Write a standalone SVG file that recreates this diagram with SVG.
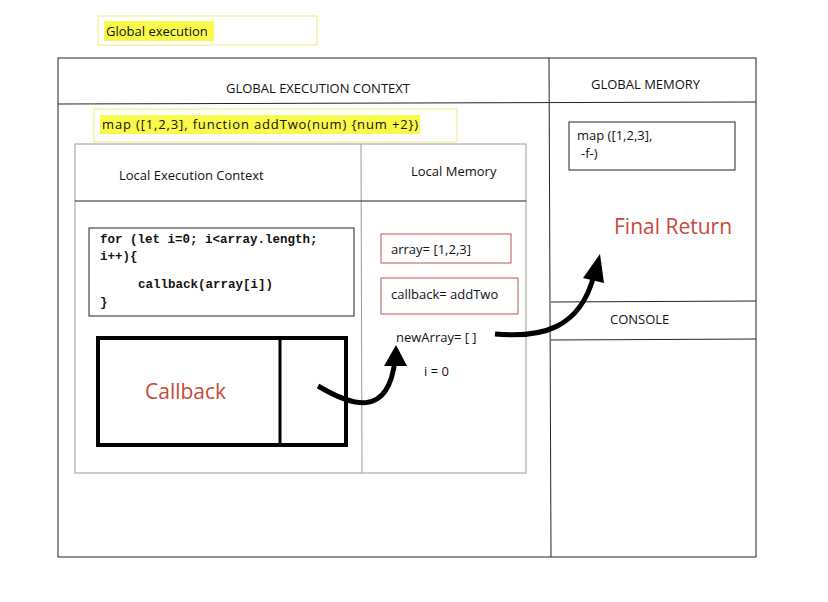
<svg xmlns="http://www.w3.org/2000/svg" width="828" height="602" viewBox="0 0 828 602">
<style>
text{font-family:"Open Sans","Liberation Sans",sans-serif;font-size:13px;fill:#111}
.ln{stroke:#222;stroke-width:1;fill:none}
.gl{stroke:#999;stroke-width:1;fill:none}
.rb{stroke:#b55;stroke-width:1;fill:#fff}
.code{font-family:"Liberation Mono",monospace;font-weight:bold;font-size:12.5px}
.red{fill:#c9483c;font-size:21px}
</style>
<rect width="828" height="602" fill="#fff"/>
<g id="title"><rect x="98" y="16" width="219" height="29" fill="#fff" stroke="#f2ec7a"/><rect x="104" y="21" width="110" height="20" fill="#fafa4a"/><text x="106" y="36">Global execution</text></g>
<g id="global">
<rect x="58" y="58" width="698" height="499" class="ln"/>
<line x1="58" y1="104" x2="756" y2="102" class="ln"/>
<line x1="549" y1="58" x2="551" y2="557" class="ln"/>
<text x="226" y="93">GLOBAL EXECUTION CONTEXT</text>
<text x="591" y="89">GLOBAL MEMORY</text>
</g>
<g id="mapcall"><rect x="94" y="109" width="363" height="33" fill="#fff" stroke="#f2ec7a"/><rect x="100" y="115" width="320" height="19" fill="#fafa4a"/><text x="102" y="129" textLength="316">map ([1,2,3], function addTwo(num) {num +2})</text></g>
<g id="local">
<rect x="75" y="144" width="451" height="329" class="gl"/>
<line x1="361" y1="144" x2="362" y2="473" class="gl"/>
<line x1="75" y1="201" x2="526" y2="201" class="ln"/>
<text x="119" y="180">Local Execution Context</text>
<text x="411" y="176">Local Memory</text>
</g>
<g id="code"><rect x="89" y="228" width="265" height="88" class="ln"/>
<text class="code" x="100" y="243">for (let i=0; i&lt;array.length;</text>
<text class="code" x="100" y="260">i++){</text>
<text class="code" x="138" y="288">callback(array[i])</text>
<text class="code" x="100" y="306">}</text></g>
<g id="callback"><rect x="98" y="338" width="248" height="107" fill="none" stroke="#000" stroke-width="4"/><line x1="280" y1="338" x2="280" y2="445" stroke="#000" stroke-width="3"/><text class="red" x="145" y="399">Callback</text></g>
<g id="mem1"><rect x="381" y="234" width="130" height="29" class="rb"/><text x="391" y="254">array= [1,2,3]</text></g>
<g id="mem2"><rect x="381" y="278" width="137" height="36" class="rb"/><text x="391" y="299">callback= addTwo</text></g>
<g id="mem3"><text x="396" y="342">newArray= [ ]</text><text x="424" y="376">i = 0</text></g>
<g id="gmem"><rect x="569" y="122" width="166" height="48" class="ln"/><text x="577" y="140">map ([1,2,3],</text><text x="581" y="158">-f-)</text></g>
<g id="final"><text class="red" x="614" y="234">Final Return</text></g>
<g id="console"><line x1="551" y1="302" x2="756" y2="301" class="ln"/><line x1="551" y1="340" x2="756" y2="339" class="ln"/><text x="610" y="324">CONSOLE</text></g>
<g id="connectors">
<path d="M318,386 C350,405 388,420 395,360" stroke="#000" stroke-width="5" fill="none"/>
<path d="M384,366 L396,345 L407,366 z" fill="#000"/>
<path d="M495,334 C540,338 580,330 594,275" stroke="#000" stroke-width="5" fill="none"/>
<path d="M583,278 L600,254 L604,283 z" fill="#000"/>
</g>
</svg>
